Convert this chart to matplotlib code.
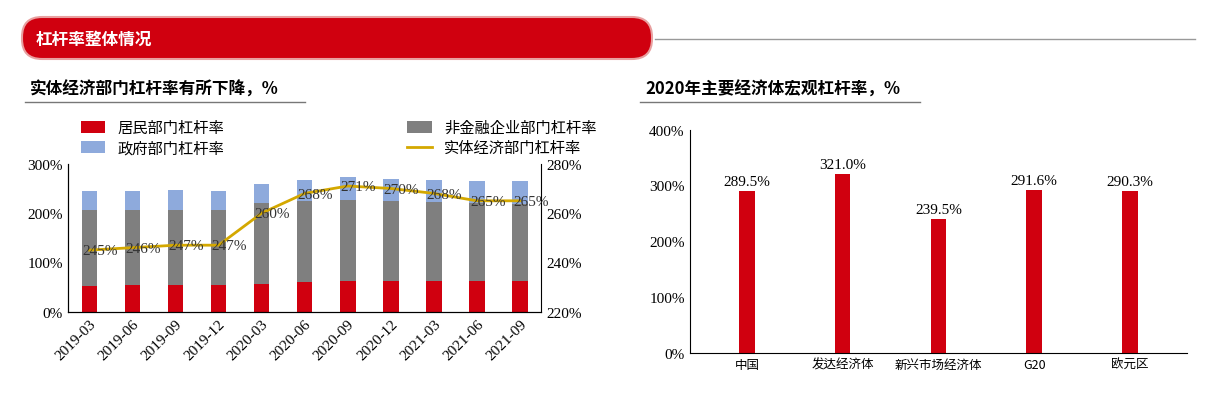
import matplotlib
matplotlib.use("Agg")
import matplotlib.pyplot as plt
from matplotlib import font_manager
from matplotlib.patches import FancyBboxPatch
import numpy as np

names = {f.name for f in font_manager.fontManager.ttflist}
cjk = [n for n in ["Noto Sans CJK SC", "Noto Sans CJK JP", "Noto Sans CJK TC", "Noto Sans CJK KR"] if n in names]
plt.rcParams['font.family'] = 'sans-serif'
plt.rcParams['font.sans-serif'] = cjk + ['DejaVu Sans']
SERIF = ["Liberation Serif"] + cjk

dates = ["2019-03","2019-06","2019-09","2019-12","2020-03","2020-06","2020-09","2020-12","2021-03","2021-06","2021-09"]
household = [53, 55, 55, 55, 57, 60, 62, 62, 62, 62, 62]
corporate = [154, 152, 152, 152, 163, 164, 164, 163, 160, 158, 157]
government = [38, 38, 40, 38, 40, 43, 47, 45, 45, 45, 46]
total = [245, 246, 247, 247, 260, 268, 271, 270, 268, 265, 265]

economies = ["中国", "发达经济体", "新兴市场经济体", "G20", "欧元区"]
leverage2020 = [289.5, 321.0, 239.5, 291.6, 290.3]

red = "#d0000f"
fig = plt.figure(figsize=(12.14, 4.02), dpi=100)

hax = fig.add_axes([0, 0, 1, 1], zorder=-1)
hax.set_xlim(0, 1214); hax.set_ylim(402, 0); hax.axis('off')
hax.add_patch(FancyBboxPatch((22, 18), 630, 42, boxstyle="round,pad=0,rounding_size=20",
                             fc=red, ec="#e8a0a0", lw=1.5))
hax.plot([655, 1195], [40, 40], color="#999999", lw=1)
hax.text(36, 40, "杠杆率整体情况", color="white", fontsize=12, fontweight='bold', va='center')
hax.text(30, 90, "实体经济部门杠杆率有所下降，%", fontsize=12, fontweight='bold', va='center')
hax.plot([25, 305], [103, 103], color="#777777", lw=1)
hax.text(645, 90, "2020年主要经济体宏观杠杆率，%", fontsize=12, fontweight='bold', va='center')
hax.plot([640, 920], [103, 103], color="#777777", lw=1)

ax = fig.add_axes([0.056, 0.222, 0.39, 0.368])
x = np.arange(len(dates))
w = 0.36
b1 = ax.bar(x, household, w, color=red)
b2 = ax.bar(x, corporate, w, bottom=household, color="#7f7f7f")
bot = np.array(household) + np.array(corporate)
b3 = ax.bar(x, government, w, bottom=bot, color="#8eaadc")
ax.set_ylim(0, 300)
ax.set_yticks([0, 100, 200, 300])
ax.set_yticklabels(["0%", "100%", "200%", "300%"], fontfamily=SERIF, fontsize=11)
ax.set_xlim(-0.5, len(dates) - 0.5)
ax.set_xticks(x)
ax.set_xticklabels(dates, rotation=45, ha='right', rotation_mode='anchor', fontfamily=SERIF, fontsize=11)
ax.spines['top'].set_visible(False)
ax.spines['right'].set_visible(False)
ax.tick_params(length=0)
ax2 = ax.twinx()
l, = ax2.plot(x, total, color="#d4a800", lw=2)
ax2.set_ylim(220, 280)
ax2.set_yticks([220, 240, 260, 280])
ax2.set_yticklabels(["220%", "240%", "260%", "280%"], fontfamily=SERIF, fontsize=11)
ax2.spines['top'].set_visible(False)
ax2.tick_params(length=0)
for xi, v in zip(x, total):
    ax2.text(xi + 0.25, v - 0.3, f"{v}%", fontsize=11, fontfamily=SERIF, ha='center', va='center', color="#333333")
fig.legend([b1, b3, b2, l], ["居民部门杠杆率", "政府部门杠杆率", "非金融企业部门杠杆率", "实体经济部门杠杆率"],
           loc='upper left', bbox_to_anchor=(0.055, 0.735), ncol=2, frameon=False, fontsize=11,
           columnspacing=12, handlelength=1.6, handleheight=0.9, labelspacing=0.2)

axr = fig.add_axes([0.568, 0.12, 0.41, 0.555])
xr = np.arange(len(economies))
axr.bar(xr, leverage2020, 0.16, color=red)
axr.set_ylim(0, 400)
axr.set_yticks([0, 100, 200, 300, 400])
axr.set_yticklabels(["0%", "100%", "200%", "300%", "400%"], fontfamily=SERIF, fontsize=11)
axr.set_xticks(xr)
axr.set_xticklabels(economies, fontsize=9)
axr.set_xlim(-0.6, len(economies) - 0.4)
for s in ['top', 'right']:
    axr.spines[s].set_visible(False)
axr.tick_params(length=0)
for xi, v in zip(xr, leverage2020):
    axr.text(xi, v + 5, f"{v:.1f}%", ha='center', va='bottom', fontsize=11, fontfamily=SERIF)

fig.savefig("out.png", dpi=100)
